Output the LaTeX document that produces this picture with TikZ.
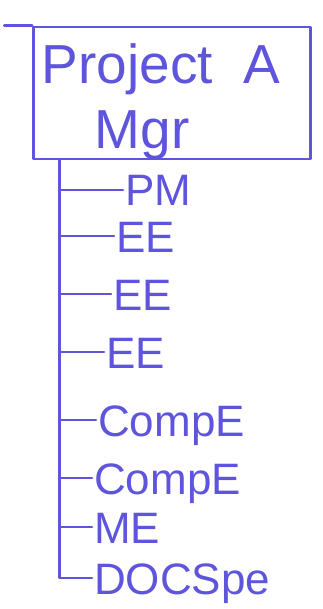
\documentclass[tikz,border=0pt]{standalone}
\usepackage{fontspec}
\setmainfont{Liberation Sans}
\usepackage{xcolor}
\definecolor{pen}{RGB}{95,85,220}
\usetikzlibrary{arrows.meta}

\tikzset{
    stroke/.style={draw=pen, line width=2.6pt, line cap=round, line join=round},
    role/.style={anchor=west, text=pen, inner sep=2pt, text height=32pt, text depth=0pt,
        font=\fontsize{44}{50}\selectfont},
}

\begin{document}
\begin{tikzpicture}[x=1pt, y=-1pt]
    \useasboundingbox (0,0) rectangle (322,609);
    \node[stroke, text=pen, minimum width=277pt, minimum height=132pt, align=center,
        font=\fontsize{55}{65}\selectfont] (mgr) at (172,93)
        {\rule{0pt}{47pt}\smash{Project~~A}\hspace*{22pt}\\\smash{Mgr}\hspace*{60pt}};
    \draw[stroke] ([xshift=-28pt]mgr.north west) -- (mgr.north west);
    \coordinate (spinetop) at ([xshift=27pt]mgr.south west);

    % staff
    \node[role] (pm)      at (123,190) {PM};
    \node[role] (ee1)     at (114,236) {EE};
    \node[role] (ee2)     at (111,294) {EE};
    \node[role] (ee3)     at (104,352) {EE};
    \node[role] (compe1)  at (96,420)  {CompE};
    \node[role] (compe2)  at (92,478)  {CompE};
    \node[role] (me)      at (92,527)  {ME};
    \node[role] (docspe)  at (92,578)  {DOCSpe};

    \draw[stroke] (spinetop) -- (spinetop |- docspe.west) -- (docspe.west);
    \draw[stroke] (spinetop |- pm.west) -- (pm.west);
    \draw[stroke] (spinetop |- ee1.west) -- (ee1.west);
    \draw[stroke] (spinetop |- ee2.west) -- (ee2.west);
    \draw[stroke] (spinetop |- ee3.west) -- (ee3.west);
    \draw[stroke] (spinetop |- compe1.west) -- (compe1.west);
    \draw[stroke] (spinetop |- compe2.west) -- (compe2.west);
    \draw[stroke] (spinetop |- me.west) -- (me.west);
\end{tikzpicture}
\end{document}
